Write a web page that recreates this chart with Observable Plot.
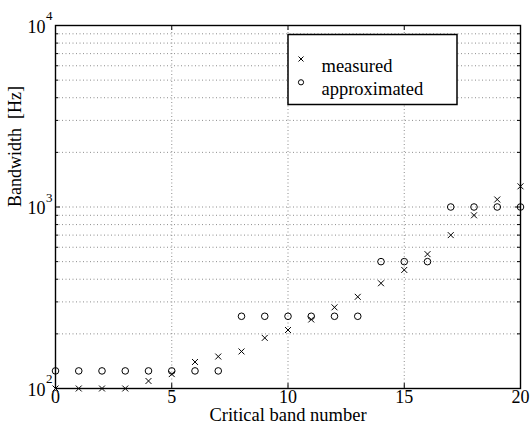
<!DOCTYPE html>
<html>
<head>
<meta charset="utf-8">
<script src="https://cdn.jsdelivr.net/npm/d3@7"></script>
<script src="https://cdn.jsdelivr.net/npm/@observablehq/plot@0.6"></script>
<style>
  html, body { margin: 0; padding: 0; background: #fff; }
</style>
</head>
<body>
<div id="chart"></div>
<script>
const bands = [0,1,2,3,4,5,6,7,8,9,10,11,12,13,14,15,16,17,18,19,20];
const measured = [100,100,100,100,110,120,140,150,160,190,210,240,280,320,380,450,550,700,900,1100,1300];
const approximated = [125,125,125,125,125,125,125,125,250,250,250,250,250,250,500,500,500,1000,1000,1000,1000];

const xTicks = [0,5,10,15,20];
const xInnerTicks = [5,10,15];
const yMajor = [100,1000,10000];
const yMajorBase = ["10","10","10"];
const yMajorExp = ["2","3","4"];
const yMinor = [200,300,400,500,600,700,800,900,2000,3000,4000,5000,6000,7000,8000,9000];
const yGridValues = [200,300,400,500,600,700,800,900,1000,2000,3000,4000,5000,6000,7000,8000,9000];
const seriesNames = ["measured","approximated"];
const xLabel = "Critical band number";
const yLabel = "Bandwidth\u00a0 [Hz]";

const rows = bands.map((b, i) => ({band: b, measured: measured[i], approx: approximated[i]}));

const font = "Liberation Serif, Times New Roman, serif";
const gridStyle = {stroke: "#808080", strokeOpacity: 1, strokeDasharray: "1,2.5", strokeWidth: 0.9};

const chart = Plot.plot({
  width: 532,
  height: 428,
  marginLeft: 55,
  marginRight: 12,
  marginTop: 25,
  marginBottom: 40,
  style: {fontFamily: font, background: "#fff", color: "black"},
  x: {domain: [0, 20], axis: null},
  y: {type: "log", domain: [100, 10000], axis: null},
  marks: [
    Plot.gridX(xInnerTicks, gridStyle),
    Plot.gridY(yGridValues, gridStyle),
    Plot.frame({stroke: "black", strokeWidth: 1.4}),
    // inward ticks
    Plot.ruleX(xInnerTicks, {x: d => d, y1: 100, y2: 106.5, stroke: "black", strokeWidth: 1}),
    Plot.ruleX(xInnerTicks, {x: d => d, y1: 10000 / 1.0655, y2: 10000, stroke: "black", strokeWidth: 1}),
    Plot.ruleY([1000], {y: d => d, x1: 0, x2: 0.215, stroke: "black", strokeWidth: 1}),
    Plot.ruleY([1000], {y: d => d, x1: 20 - 0.215, x2: 20, stroke: "black", strokeWidth: 1}),
    Plot.ruleY(yMinor, {y: d => d, x1: 0, x2: 0.13, stroke: "black", strokeWidth: 1}),
    Plot.ruleY(yMinor, {y: d => d, x1: 20 - 0.13, x2: 20, stroke: "black", strokeWidth: 1}),
    // tick labels
    Plot.text(xTicks, {x: d => d, text: d => String(d), frameAnchor: "bottom", dy: 14.5, fontSize: 18, fontFamily: font, fill: "black"}),
    Plot.text(yMajor, {y: d => d, text: (d, i) => yMajorBase[i], frameAnchor: "left", textAnchor: "end", dx: -10, dy: 1.5, fontSize: 18, fontFamily: font, fill: "black"}),
    Plot.text(yMajor, {y: d => d, text: (d, i) => yMajorExp[i], frameAnchor: "left", textAnchor: "start", dx: -9.5, dy: -9.5, fontSize: 13, fontFamily: font, fill: "black"}),
    // axis labels
    Plot.text([xLabel], {text: d => d, frameAnchor: "bottom", dy: 32.8, fontSize: 18.5, fontFamily: font, fill: "black"}),
    Plot.text([yLabel], {text: d => d, frameAnchor: "left", dx: -40.5, rotate: -90, fontSize: 18, fontFamily: font, fill: "black"}),
    // data
    Plot.dot(rows, {x: "band", y: "measured", symbol: "times", r: 2.8, stroke: "black", strokeWidth: 1}),
    Plot.dot(rows, {x: "band", y: "approx", symbol: "circle", r: 3.3, stroke: "black", fill: "none", strokeWidth: 1}),
    // legend
    Plot.frame({insetLeft: 232.5, insetRight: 63.5, insetTop: 9, insetBottom: 284, fill: "white", stroke: "black", strokeWidth: 1.5}),
    Plot.dot([seriesNames[0]], {x: null, y: null, frameAnchor: "top-left", dx: 245.5, dy: 33.5, symbol: "times", r: 2.4, stroke: "black", strokeWidth: 1}),
    Plot.dot([seriesNames[1]], {x: null, y: null, frameAnchor: "top-left", dx: 245.5, dy: 56.8, symbol: "circle", r: 2.6, stroke: "black", fill: "none", strokeWidth: 1}),
    Plot.text([seriesNames[0]], {text: d => d, frameAnchor: "top-left", dx: 266, dy: 33, textAnchor: "start", fontSize: 18.5, fontFamily: font, fill: "black"}),
    Plot.text([seriesNames[1]], {text: d => d, frameAnchor: "top-left", dx: 266, dy: 56.5, textAnchor: "start", fontSize: 18.5, fontFamily: font, fill: "black"})
  ]
});
document.getElementById("chart").appendChild(chart);
</script>
</body>
</html>
